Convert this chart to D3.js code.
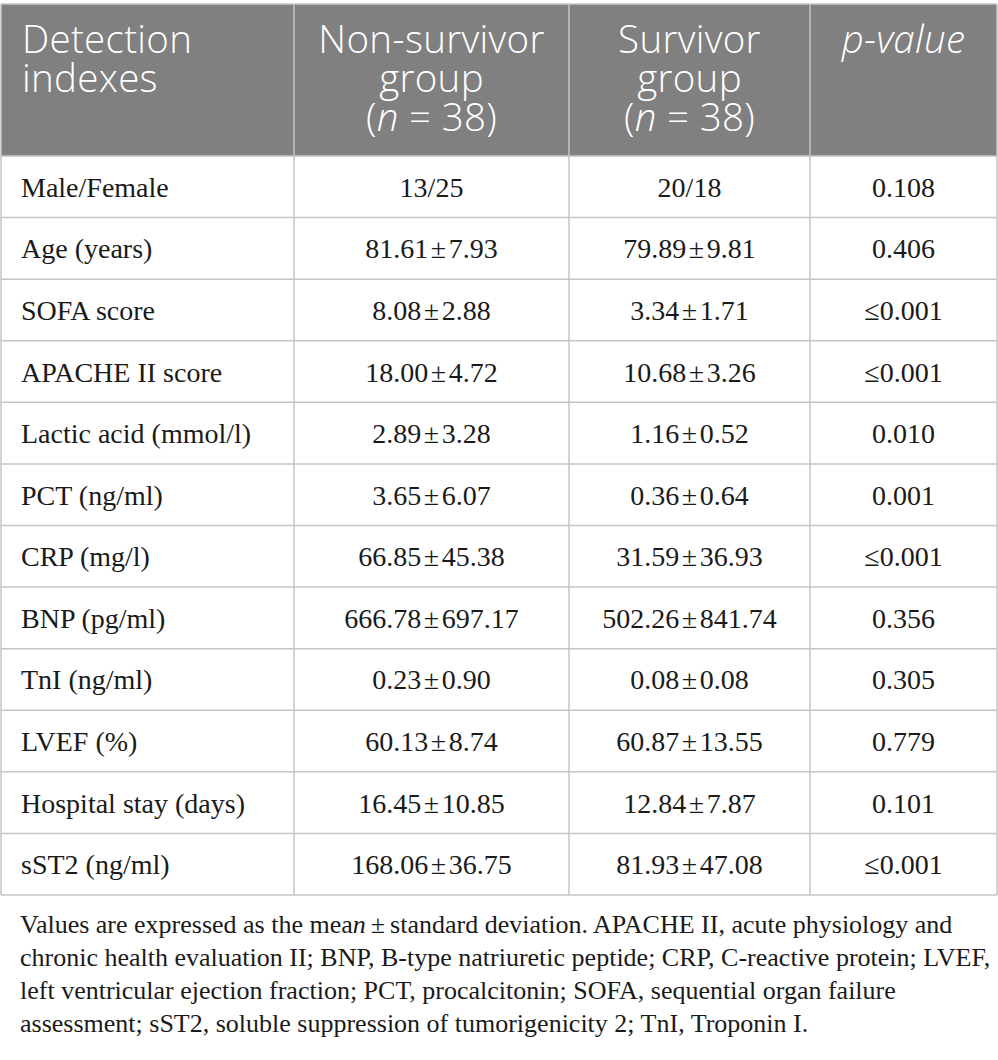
<!DOCTYPE html>
<html>
<head>
<meta charset="utf-8">
<script src="https://cdn.jsdelivr.net/npm/d3@7"></script>
<style>
  html, body { margin: 0; padding: 0; background: #fff; }
  svg { display: block; }
</style>
</head>
<body>
<div id="chart"></div>
<script>
// ---- data ----
const headers = [
  ["Detection", "indexes"],
  ["Non-survivor", "group", "(n = 38)"],
  ["Survivor", "group", "(n = 38)"],
  ["p-value"]
];
const indexes = ["Male/Female", "Age (years)", "SOFA score", "APACHE II score", "Lactic acid (mmol/l)",
  "PCT (ng/ml)", "CRP (mg/l)", "BNP (pg/ml)", "TnI (ng/ml)", "LVEF (%)", "Hospital stay (days)", "sST2 (ng/ml)"];
const nonSurvivor = ["13/25", "81.61 ± 7.93", "8.08 ± 2.88", "18.00 ± 4.72", "2.89 ± 3.28", "3.65 ± 6.07",
  "66.85 ± 45.38", "666.78 ± 697.17", "0.23 ± 0.90", "60.13 ± 8.74", "16.45 ± 10.85", "168.06 ± 36.75"];
const survivor = ["20/18", "79.89 ± 9.81", "3.34 ± 1.71", "10.68 ± 3.26", "1.16 ± 0.52", "0.36 ± 0.64",
  "31.59 ± 36.93", "502.26 ± 841.74", "0.08 ± 0.08", "60.87 ± 13.55", "12.84 ± 7.87", "81.93 ± 47.08"];
const pValues = ["0.108", "0.406", "≤0.001", "≤0.001", "0.010", "0.001", "≤0.001", "0.356", "0.305", "0.779", "0.101", "≤0.001"];
const footnote = [
  "Values are expressed as the mean ± standard deviation. APACHE II, acute physiology and",
  "chronic health evaluation II; BNP, B-type natriuretic peptide; CRP, C-reactive protein; LVEF,",
  "left ventricular ejection fraction; PCT, procalcitonin; SOFA, sequential organ failure",
  "assessment; sST2, soluble suppression of tumorigenicity 2; TnI, Troponin I."
];

// ---- layout ----
const W = 998, H = 1060;
const colEdges = [1, 294, 569, 810, 997];
const tableTop = 4, headerBottom = 156, tableBottom = 895;
const gridColor = "#c4c4c4";
const headerBg = "#808080";

const svg = d3.select("#chart").append("svg").attr("width", W).attr("height", H);

const y = d3.scaleBand().domain(d3.range(indexes.length)).range([headerBottom, tableBottom]);

// header background
svg.append("rect").attr("x", colEdges[0]).attr("y", tableTop)
  .attr("width", colEdges[4] - colEdges[0]).attr("height", headerBottom - tableTop)
  .attr("fill", headerBg);

// grid: horizontal lines
const hLines = [tableTop, headerBottom].concat(d3.range(1, indexes.length + 1).map(i => y(i - 1) + y.bandwidth()));
svg.selectAll("line.h").data(hLines).join("line")
  .attr("x1", colEdges[0]).attr("x2", colEdges[4])
  .attr("y1", d => d).attr("y2", d => d)
  .attr("stroke", gridColor).attr("stroke-width", 1.5);
// vertical lines
svg.selectAll("line.v").data(colEdges).join("line")
  .attr("x1", d => d).attr("x2", d => d)
  .attr("y1", tableTop).attr("y2", tableBottom)
  .attr("stroke", gridColor).attr("stroke-width", 1.5);

// header text: one text element per header cell, lines as tspans
const headFont = "'Open Sans', 'Noto Sans', sans-serif";
headers.forEach((lines, c) => {
  const isLeft = c === 0;
  const cx = isLeft ? colEdges[0] + 21 : (colEdges[c] + colEdges[c + 1]) / 2;
  const t = svg.append("text")
    .attr("x", cx).attr("y", 53)
    .attr("text-anchor", isLeft ? "start" : "middle")
    .attr("font-family", headFont).attr("font-size", 38.5).attr("font-weight", 300)
    .attr("letter-spacing", 0.3)
    .attr("fill", "#ffffff");
  if (c === 3) t.attr("font-style", "italic");
  lines.forEach((ln, i) => {
    if (ln.startsWith("(n")) {
      t.append("tspan").attr("x", cx).attr("y", 53 + i * 39).text("(");
      t.append("tspan").attr("font-style", "italic").text("n");
      t.append("tspan").text(" = 38)");
    } else {
      t.append("tspan").attr("x", cx).attr("y", 53 + i * 39).text(ln);
    }
  });
});

// body text
const bodyFont = "'Liberation Serif', 'Times New Roman', serif";
const cols = [indexes, nonSurvivor, survivor, pValues];
cols.forEach((arr, c) => {
  const isLeft = c === 0;
  const sel = svg.append("g").selectAll("text").data(arr).join("text")
    .attr("x", isLeft ? colEdges[0] + 20 : (colEdges[c] + colEdges[c + 1]) / 2)
    .attr("y", (d, i) => y(i) + y.bandwidth() / 2 + 10)
    .attr("text-anchor", isLeft ? "start" : "middle")
    .attr("font-family", bodyFont).attr("font-size", 28)
    .attr("fill", "#1a1a1a");
  sel.each(function (d) {
    const t = d3.select(this);
    const parts = d.split(" ± ");
    if (parts.length === 2) {
      t.append("tspan").text(parts[0]);
      t.append("tspan").attr("dx", 2.5).text("±");
      t.append("tspan").attr("dx", 2.5).text(parts[1]);
    } else {
      t.text(d);
    }
  });
});

// footnote
const fn = svg.append("g");
footnote.forEach((ln, i) => {
  const t = fn.append("text")
    .attr("x", 20).attr("y", 933 + i * 33)
    .attr("font-family", bodyFont).attr("font-size", 26)
    .attr("fill", "#1a1a1a");
  if (i === 0) {
    const k = ln.indexOf("mean");
    t.append("tspan").text(ln.slice(0, k + 3));
    t.append("tspan").attr("font-style", "italic").text("n");
    t.append("tspan").attr("dx", 5).text("±");
    t.append("tspan").attr("dx", 5).text(ln.slice(k + 7));
  } else {
    t.text(ln);
  }
});
</script>
</body>
</html>
